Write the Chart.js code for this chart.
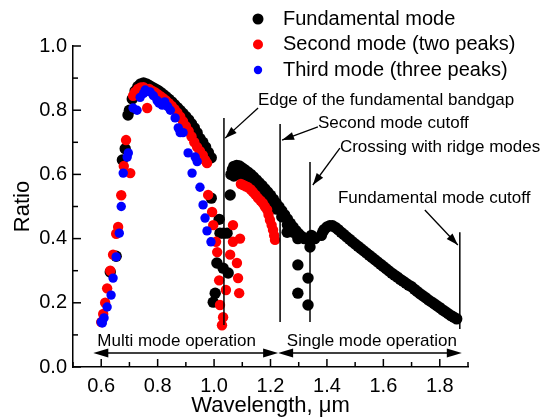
<!DOCTYPE html>
<html><head><meta charset="utf-8">
<script src="https://cdn.jsdelivr.net/npm/chart.js@4.4.1/dist/chart.umd.min.js"></script>
<style>html,body{margin:0;padding:0;background:#fff}</style>
</head><body>
<canvas id="c" width="546" height="419"></canvas>
<script>
// ---- data (wavelength in um, ratio) ----
const fundamentalPeak1 = [[0.632,0.296],[0.653,0.345],[0.675,0.645],[0.685,0.68],[0.695,0.785],[0.70,0.80],[0.71,0.835],[0.72,0.86],[0.73,0.874],[0.74,0.882],[0.75,0.885],[0.76,0.882],[0.77,0.877],[0.78,0.872],[0.79,0.867],[0.80,0.862],[0.81,0.856],[0.82,0.849],[0.83,0.842],[0.84,0.834],[0.85,0.826],[0.86,0.817],[0.87,0.808],[0.88,0.799],[0.89,0.79],[0.90,0.78],[0.91,0.77],[0.92,0.758],[0.93,0.745],[0.94,0.73],[0.95,0.712],[0.96,0.70],[0.97,0.685],[0.98,0.668],[0.99,0.652],
  [0.76,0.865],[0.80,0.848],[0.84,0.822],[0.88,0.785],[0.90,0.765],[0.92,0.745],[0.94,0.718]];
const fundamentalDip = [[0.99,0.526],[1.057,0.536],[1.018,0.46],[1.021,0.417],[1.033,0.417],[1.046,0.417],[1.01,0.324],[1.032,0.308],[1.05,0.293],[1.004,0.23],[0.997,0.202]];
const fundamentalPeak2 = [[1.06,0.60],[1.065,0.615],[1.07,0.625],[1.08,0.628],[1.09,0.626],[1.10,0.62],[1.11,0.614],[1.12,0.607],[1.13,0.60],[1.14,0.592],[1.15,0.583],[1.16,0.574],[1.17,0.565],[1.18,0.555],[1.19,0.545],[1.20,0.535],[1.21,0.523],[1.22,0.511],[1.23,0.499],[1.24,0.487],[1.25,0.474],[1.26,0.461],[1.27,0.448],[1.28,0.436],[1.29,0.425],[1.30,0.415],[1.31,0.407],[1.32,0.40],
  [1.07,0.595],[1.08,0.60],[1.09,0.60],[1.10,0.595],[1.12,0.582],[1.14,0.568],[1.16,0.552],[1.18,0.535],[1.20,0.515],[1.22,0.492],[1.24,0.468],[1.26,0.443],[1.28,0.42]];
const fundamentalScatter = [[1.259,0.42],[1.297,0.40],[1.297,0.318],[1.297,0.23],[1.333,0.277],[1.333,0.193],[1.33,0.40],[1.34,0.374],[1.357,0.40],[1.345,0.41]];
const fundamentalPeak3 = [[1.38,0.41],[1.385,0.42],[1.39,0.428],[1.40,0.436],[1.41,0.44],[1.42,0.44],[1.43,0.435],[1.44,0.428],[1.45,0.42],[1.46,0.413],[1.47,0.405],[1.48,0.398],[1.49,0.39],[1.50,0.383],[1.51,0.376],[1.52,0.369],[1.53,0.362],[1.54,0.355],[1.55,0.348],[1.56,0.341],[1.57,0.334],[1.58,0.327],[1.59,0.32],[1.60,0.313],[1.61,0.306],[1.62,0.299],[1.63,0.292],[1.64,0.286],[1.65,0.28],[1.66,0.273],[1.67,0.267],[1.68,0.261],[1.69,0.255],[1.70,0.25],[1.71,0.242],[1.72,0.235],[1.73,0.228],[1.74,0.222],[1.75,0.216],[1.76,0.209],[1.77,0.203],[1.78,0.197],[1.79,0.191],[1.80,0.185],[1.81,0.178],[1.82,0.172],[1.83,0.166],[1.84,0.16],[1.85,0.155],[1.86,0.15]];

const secondRise = [[0.60,0.14],[0.607,0.165],[0.614,0.20],[0.621,0.245],[0.632,0.30],[0.642,0.35],[0.653,0.415],[0.66,0.436],[0.671,0.535],[0.68,0.626],[0.688,0.707],[0.703,0.604]];
const secondPeak1 = [[0.713,0.845],[0.72,0.857],[0.73,0.866],[0.74,0.871],[0.75,0.872],[0.763,0.807],[0.77,0.866],[0.78,0.861],[0.79,0.856],[0.80,0.85],[0.81,0.844],[0.82,0.837],[0.83,0.83],[0.84,0.822],[0.85,0.813],[0.86,0.803],[0.87,0.792],[0.88,0.78],[0.89,0.765],[0.90,0.75],[0.91,0.735],[0.92,0.718],[0.93,0.70],[0.94,0.685],[0.95,0.672],[0.96,0.66],[0.968,0.645],[0.975,0.635]];
const secondDip = [[0.979,0.536],[0.993,0.483],[0.997,0.442],[1.007,0.39],[1.011,0.358],[1.018,0.27],[1.021,0.193],[1.028,0.13],[1.032,0.155],[1.042,0.24],[1.057,0.35],[1.067,0.39],[1.067,0.442],[1.081,0.324],[1.085,0.277],[1.089,0.23],[1.092,0.40]];
const secondPeak2 = [[1.095,0.57],[1.103,0.567],[1.112,0.563],[1.12,0.56],[1.13,0.553],[1.138,0.545],[1.147,0.536],[1.156,0.526],[1.165,0.518],[1.173,0.51],[1.18,0.50],[1.188,0.49],[1.193,0.474],[1.198,0.458],[1.204,0.442],[1.209,0.427],[1.213,0.41],[1.216,0.396]];

const thirdRise = [[0.60,0.14],[0.604,0.137],[0.61,0.153],[0.621,0.187],[0.635,0.224],[0.642,0.277],[0.653,0.343],[0.664,0.417],[0.671,0.50],[0.678,0.604],[0.692,0.654],[0.696,0.667]];
const thirdPeak = [[0.713,0.807],[0.727,0.80],[0.738,0.84],[0.75,0.852],[0.756,0.863],[0.773,0.857],[0.785,0.845],[0.798,0.83],[0.805,0.822],[0.816,0.816],[0.825,0.826],[0.835,0.812],[0.845,0.80],[0.862,0.776],[0.873,0.745],[0.88,0.73],[0.89,0.73],[0.908,0.667],[0.922,0.604],[0.933,0.654],[0.94,0.64],[0.95,0.56],[0.961,0.505],[0.968,0.464],[0.975,0.424],[0.989,0.39]];

const seriesLabels = ['Fundamental mode','Second mode (two peaks)','Third mode (three peaks)'];
const seriesColors = ['#000000','#ff0000','#0000ff'];

// annotations (data coordinates)
const cutoffLines = [
  {x:1.035, y0:0.131, y1:0.776},
  {x:1.234, y0:0.140, y1:0.757},
  {x:1.340, y0:0.140, y1:0.639},
  {x:1.871, y0:0.118, y1:0.420}];
const noteArrows = [
  {from:[1.156,0.807], to:[1.039,0.713]},
  {from:[1.368,0.748], to:[1.241,0.707]},
  {from:[1.446,0.682], to:[1.35,0.567]},
  {from:[1.747,0.489], to:[1.864,0.38]}];
const noteTexts = [
  {text:'Edge of the fundamental bandgap', x:1.156, y:0.832},
  {text:'Second mode cutoff', x:1.368, y:0.760},
  {text:'Crossing with ridge modes', x:1.446, y:0.685},
  {text:'Fundamental mode cutoff', x:1.439, y:0.526},
  {text:'Multi mode operation', x:0.586, y:0.081},
  {text:'Single mode operation', x:1.258, y:0.081}];
const operationArrows = [{x0:0.572, x1:1.227, y:0.0436},{x0:1.227, x1:1.878, y:0.0436}];

const FONT = 'Arial, "Liberation Sans", Helvetica, sans-serif';
const pts = a => a.map(p => ({x:p[0], y:p[1]}));

function arrowHead(ctx, x1, y1, x2, y2, len, half){
  const a = Math.atan2(y2-y1, x2-x1);
  ctx.beginPath();
  ctx.moveTo(x2, y2);
  ctx.lineTo(x2 - len*Math.cos(a) + half*Math.sin(a), y2 - len*Math.sin(a) - half*Math.cos(a));
  ctx.lineTo(x2 - len*Math.cos(a) - half*Math.sin(a), y2 - len*Math.sin(a) + half*Math.cos(a));
  ctx.closePath(); ctx.fill();
}

const decor = {
  id:'decor',
  afterDraw(chart){
    const ctx = chart.ctx, xs = chart.scales.x, ys = chart.scales.y, ca = chart.chartArea;
    ctx.save();
    ctx.strokeStyle = '#000'; ctx.fillStyle = '#000'; ctx.lineWidth = 1.5;
    // inward ticks
    xs.ticks.forEach(t => {
      const px = xs.getPixelForValue(t.value);
      const len = Math.round(t.value*10) % 2 === 0 ? 8 : 5;
      ctx.beginPath(); ctx.moveTo(px, ca.bottom); ctx.lineTo(px, ca.bottom - len); ctx.stroke();
    });
    ys.ticks.forEach(t => {
      const py = ys.getPixelForValue(t.value);
      const len = Math.round(t.value*10) % 2 === 0 ? 8 : 5;
      ctx.beginPath(); ctx.moveTo(ca.left, py); ctx.lineTo(ca.left + len, py); ctx.stroke();
    });
    // vertical cutoff lines
    cutoffLines.forEach(l => {
      const px = xs.getPixelForValue(l.x);
      ctx.beginPath(); ctx.moveTo(px, ys.getPixelForValue(l.y0)); ctx.lineTo(px, ys.getPixelForValue(l.y1)); ctx.stroke();
    });
    // annotation arrows
    ctx.lineWidth = 1.3;
    noteArrows.forEach(a => {
      const x1 = xs.getPixelForValue(a.from[0]), y1 = ys.getPixelForValue(a.from[1]);
      const x2 = xs.getPixelForValue(a.to[0]), y2 = ys.getPixelForValue(a.to[1]);
      ctx.beginPath(); ctx.moveTo(x1, y1); ctx.lineTo(x2, y2); ctx.stroke();
      arrowHead(ctx, x1, y1, x2, y2, 12, 4);
    });
    // operation double arrows
    ctx.lineWidth = 1.5;
    operationArrows.forEach(a => {
      const x0 = xs.getPixelForValue(a.x0), x1 = xs.getPixelForValue(a.x1), py = ys.getPixelForValue(a.y);
      ctx.beginPath(); ctx.moveTo(x0 + 5, py); ctx.lineTo(x1 - 5, py); ctx.stroke();
      arrowHead(ctx, x1, py, x0, py, 15, 4.5);
      arrowHead(ctx, x0, py, x1, py, 15, 4.5);
    });
    // texts
    ctx.font = '17px ' + FONT; ctx.textBaseline = 'middle'; ctx.textAlign = 'left';
    noteTexts.forEach(t => ctx.fillText(t.text, xs.getPixelForValue(t.x), ys.getPixelForValue(t.y)));
    // legend
    const radii = [5.5, 5, 4.2];
    ctx.font = '20px ' + FONT;
    seriesLabels.forEach((lab, i) => {
      const y = 19 + i*25.5;
      ctx.fillStyle = seriesColors[i];
      ctx.beginPath(); ctx.arc(258, y, radii[i], 0, Math.PI*2); ctx.fill();
      ctx.fillStyle = '#000';
      ctx.fillText(lab, 283, y);
    });
    ctx.restore();
  }
};

const tickFont = {family: FONT, size: 20};
new Chart(document.getElementById('c'), {
  type:'scatter',
  data:{datasets:[
    {label:seriesLabels[0], data:pts([].concat(fundamentalPeak1, fundamentalDip, fundamentalPeak2, fundamentalScatter, fundamentalPeak3)), backgroundColor:seriesColors[0], pointRadius:5.7, pointBorderWidth:0, order:3},
    {label:seriesLabels[1], data:pts([].concat(secondRise, secondPeak1, secondDip, secondPeak2)), backgroundColor:seriesColors[1], pointRadius:5.2, pointBorderWidth:0, order:2},
    {label:seriesLabels[2], data:pts([].concat(thirdRise, thirdPeak)), backgroundColor:seriesColors[2], pointRadius:4.7, pointBorderWidth:0, order:1}
  ]},
  options:{
    responsive:false, animation:false, devicePixelRatio:1,
    layout:{padding:{top:46, right:78, left:0, bottom:0}},
    plugins:{legend:{display:false}, tooltip:{enabled:false}},
    scales:{
      x:{type:'linear', min:0.5, max:1.9,
        afterFit(s){ s.height = 52; },
        grid:{display:false, drawTicks:false},
        border:{display:true, color:'#000', width:1.5},
        ticks:{stepSize:0.1, autoSkip:false, maxRotation:0, padding:7, color:'#000', font:tickFont,
          callback(v){ const k = Math.round(v*10); return (k % 2 === 0) ? (k/10).toFixed(1) : ''; }},
        title:{display:true, text:'Wavelength, μm', color:'#000', font:{family:FONT, size:22, lineHeight:1}, padding:{top:0, bottom:2}}
      },
      y:{type:'linear', min:0, max:1,
        afterFit(s){ s.width = 73; },
        grid:{display:false, drawTicks:false},
        border:{display:true, color:'#000', width:1.5},
        ticks:{stepSize:0.1, autoSkip:false, padding:6, color:'#000', font:tickFont,
          callback(v){ const k = Math.round(v*10); return (k % 2 === 0) ? (k/10).toFixed(1) : ''; }},
        title:{display:true, text:'Ratio', color:'#000', font:{family:FONT, size:22, lineHeight:1}, padding:{top:12, bottom:0}}
      }
    }
  },
  plugins:[decor]
});
</script>
</body></html>
